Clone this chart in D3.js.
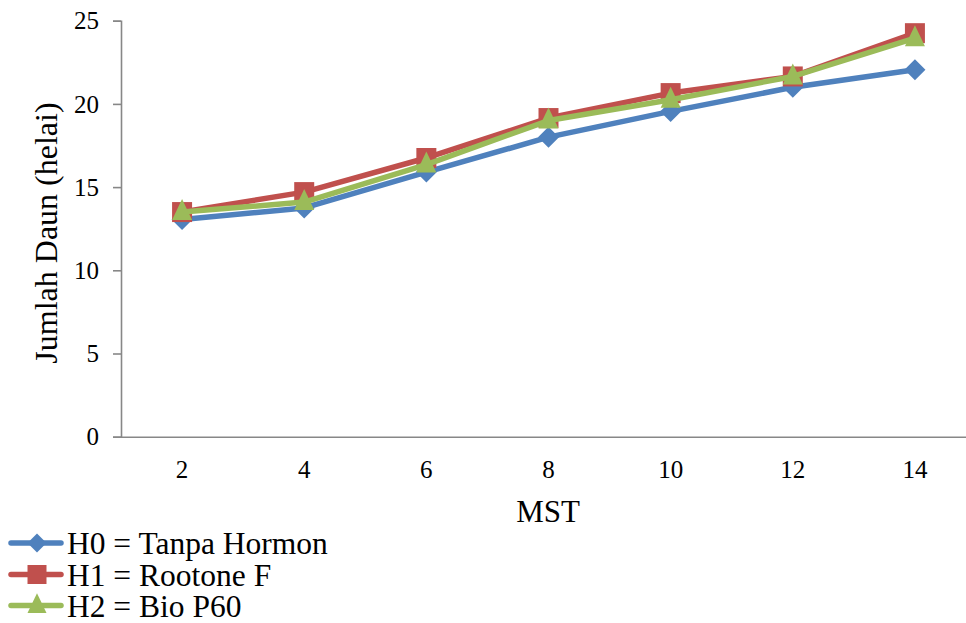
<!DOCTYPE html>
<html>
<head>
<meta charset="utf-8">
<script src="https://cdn.jsdelivr.net/npm/d3@7"></script>
<style>
  html, body { margin: 0; padding: 0; background: #fff; }
  svg { display: block; }
  svg text { font-family: "Times New Roman", "Liberation Serif", "DejaVu Serif", serif !important; fill: #000; }
</style>
</head>
<body>
<svg id="chart" width="966" height="623"></svg>
<script>
// Weeks after planting (MST)
const weeks = ["2", "4", "6", "8", "10", "12", "14"];
// Leaf count per treatment
const h0 = [13.05, 13.75, 15.9, 18.0, 19.55, 21.0, 22.05];
const h1 = [13.5, 14.7, 16.75, 19.15, 20.65, 21.65, 24.25];
const h2 = [13.5, 14.1, 16.35, 19.0, 20.25, 21.65, 23.95];
const seriesNames = ["H0 = Tanpa Hormon", "H1 = Rootone F", "H2 = Bio P60"];
const yTicks = [0, 5, 10, 15, 20, 25];

const series = [
  { name: seriesNames[0], values: h0, color: "#4F81BD", marker: "diamond" },
  { name: seriesNames[1], values: h1, color: "#C0504D", marker: "square" },
  { name: seriesNames[2], values: h2, color: "#9BBB59", marker: "triangle" }
];

const svg = d3.select("#chart");
const axisColor = "#878787";

const x = d3.scaleBand().domain(weeks).range([121, 976]).padding(0);
const y = d3.scaleLinear().domain([0, 25]).range([436.7, 20.7]);
const cx = d => x(d) + x.bandwidth() / 2;

// Y axis
const yAxis = svg.append("g")
  .attr("transform", "translate(121,0)")
  .call(d3.axisLeft(y).tickValues(yTicks).tickSize(8).tickPadding(14).tickFormat(d3.format("d")));
yAxis.attr("font-family", null);
yAxis.select(".domain").attr("stroke", axisColor).attr("stroke-width", 1.6);
yAxis.selectAll(".tick line").attr("stroke", axisColor).attr("stroke-width", 1.6);
yAxis.selectAll(".tick text")
  .attr("font-size", 25).attr("fill", "#000")
  .attr("dy", "0.33em");

// X axis
const xAxis = svg.append("g")
  .attr("transform", `translate(0,${y(0)})`)
  .call(d3.axisBottom(x).tickSize(0).tickPadding(24));
xAxis.attr("font-family", null);
xAxis.select(".domain").attr("stroke", axisColor).attr("stroke-width", 1.6);
xAxis.selectAll(".tick text")
  .attr("font-size", 25).attr("fill", "#000");

// Axis titles
svg.append("text")
  .attr("x", 548).attr("y", 522)
  .attr("text-anchor", "middle")
  .attr("font-size", 31)
  .text("MST");

svg.append("text")
  .attr("transform", "translate(57,233) rotate(-90)")
  .attr("text-anchor", "middle")
  .attr("font-size", 32)
  .text("Jumlah Daun (helai)");

// Marker shapes
function markerPath(type, s) {
  const h = s / 2;
  if (type === "diamond") return `M0,${-h}L${h},0L0,${h}L${-h},0Z`;
  if (type === "square") return `M${-h},${-h}H${h}V${h}H${-h}Z`;
  const th = s * 1.05;
  return `M0,${-th * 0.62}L${h},${th * 0.38}L${-h},${th * 0.38}Z`;
}

const line = d3.line()
  .x((d, i) => cx(weeks[i]))
  .y(d => y(d));

// Lines and markers
series.forEach(s => {
  const g = svg.append("g");
  g.append("path")
    .datum(s.values)
    .attr("d", line)
    .attr("fill", "none")
    .attr("stroke", s.color)
    .attr("stroke-width", 5.5)
    .attr("stroke-linejoin", "round")
    .attr("stroke-linecap", "round");
  g.selectAll("path.m")
    .data(s.values)
    .enter().append("path")
    .attr("class", "m")
    .attr("transform", (d, i) => `translate(${cx(weeks[i])},${y(d)})`)
    .attr("d", markerPath(s.marker, s.marker === "diamond" ? 21 : 20))
    .attr("fill", s.color);
});

// Legend
const legendRows = [543, 574.5, 605.5];
series.forEach((s, i) => {
  const g = svg.append("g").attr("transform", `translate(0,${legendRows[i]})`);
  g.append("line")
    .attr("x1", 11).attr("x2", 61).attr("y1", 0).attr("y2", 0)
    .attr("stroke", s.color).attr("stroke-width", 5.5).attr("stroke-linecap", "round");
  g.append("path")
    .attr("transform", "translate(37,0)")
    .attr("d", markerPath(s.marker, 19))
    .attr("fill", s.color);
  g.append("text")
    .attr("x", 67).attr("y", 11)
    .attr("font-size", 31.5)
    .text(s.name);
});
</script>
</body>
</html>
